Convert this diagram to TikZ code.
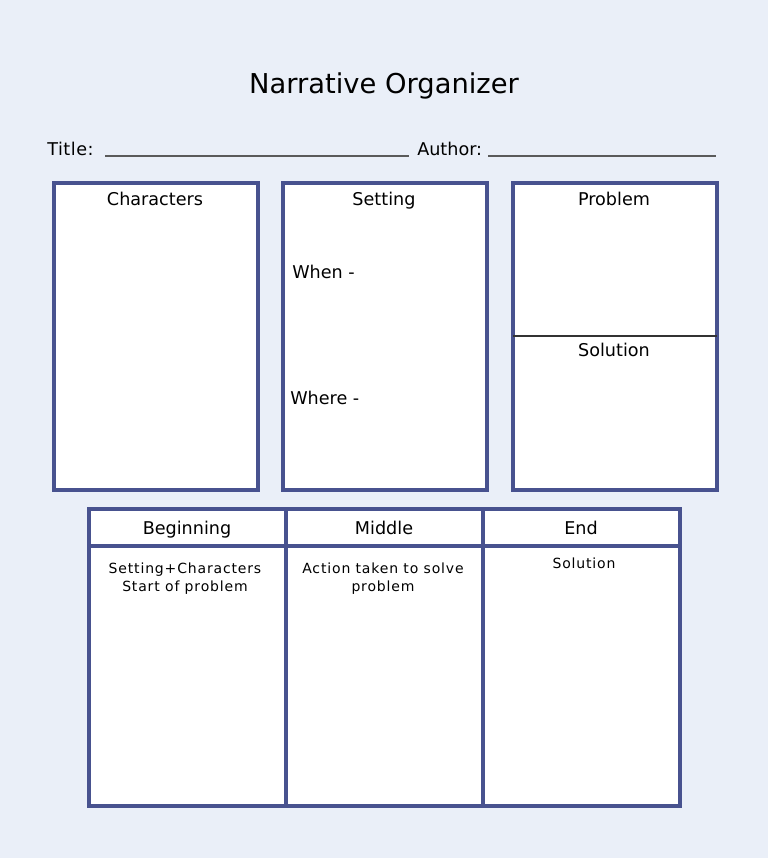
\documentclass[tikz,border=0pt]{standalone}
\usepackage{fontspec}
\setmainfont{DejaVu Sans}
\definecolor{bg}{RGB}{234,239,248}
\definecolor{frame}{RGB}{72,82,143}
\definecolor{uline}{RGB}{90,90,90}
\begin{document}
\begin{tikzpicture}[x=0.75pt,y=-0.75pt,
  panel/.style={draw=frame,line width=2.5pt,fill=white,inner sep=0pt,outer sep=0pt,anchor=north west},
  cell/.style={draw=frame,line width=2.5pt,fill=white,inner sep=0pt,outer sep=0pt,anchor=north west},
  lbl/.style={inner sep=0pt,anchor=base,font=\fontsize{13.2}{16}\selectfont},
  lbll/.style={inner sep=0pt,anchor=base west,font=\fontsize{13.2}{16}\selectfont},
  small/.style={inner sep=0pt,anchor=base,font=\fontsize{10.5}{13}\selectfont\addfontfeature{LetterSpace=6}},
  rule/.style={draw=uline,line width=1pt}]
\fill[bg] (0,0) rectangle (768,858);
\useasboundingbox (0,0) rectangle (768,858);
% title
\node[inner sep=0pt,anchor=base,font=\fontsize{20.5}{24}\selectfont] (head) at (384,93) {Narrative Organizer};
\node[lbll,font=\fontsize{13.2}{16}\selectfont\addfontfeature{LetterSpace=3}] (titlelbl) at (47,155) {Title:};
\node[lbll] (authorlbl) at (417,155) {Author:};
\coordinate (u1a) at (105,156); \coordinate (u1b) at (409,156);
\coordinate (u2a) at (488,156); \coordinate (u2b) at (716,156);
\draw[rule] (u1a) -- (u1b);
\draw[rule] (u2a) -- (u2b);
% top panels
\node[panel,minimum width=153pt,minimum height=230.25pt] (chars) at (54,183) {};
\node[panel,minimum width=153pt,minimum height=230.25pt] (setting) at (283,183) {};
\node[panel,minimum width=153pt,minimum height=230.25pt] (problem) at (513,183) {};
\coordinate (divl) at (513,336); \coordinate (divr) at (717,336);
\draw[black!80,line width=0.9pt] (divl) -- (divr);
\node[lbl] (charslbl) at (155,205) {Characters};
\node[lbl] (settinglbl) at (384,205) {Setting};
\node[lbl] (problemlbl) at (614,205) {Problem};
\node[lbl] (solutionlbl) at (614,356) {Solution};
\node[lbll] (when) at (292,278) {When -};
\node[lbll] (where) at (290,404) {Where -};
% bottom table
\node[cell,minimum width=147.75pt,minimum height=27.75pt] (hbeg) at (89,509) {};
\node[cell,minimum width=147.75pt,minimum height=27.75pt] (hmid) at (286,509) {};
\node[cell,minimum width=147.75pt,minimum height=27.75pt] (hend) at (483,509) {};
\node[cell,minimum width=147.75pt,minimum height=195pt] (bbeg) at (89,546) {};
\node[cell,minimum width=147.75pt,minimum height=195pt] (bmid) at (286,546) {};
\node[cell,minimum width=147.75pt,minimum height=195pt] (bend) at (483,546) {};
\node[lbl] (begl) at (187,534) {Beginning};
\node[lbl] (midl) at (384,534) {Middle};
\node[lbl] (endl) at (581,534) {End};
\node[small] (b1) at (185,573) {Setting+Characters};
\node[small] (b2) at (185,591) {Start of problem};
\node[small] (m1) at (383,573) {Action taken to solve};
\node[small] (m2) at (383,591) {problem};
\node[small] (e1) at (584,568) {Solution};
\end{tikzpicture}
\end{document}
